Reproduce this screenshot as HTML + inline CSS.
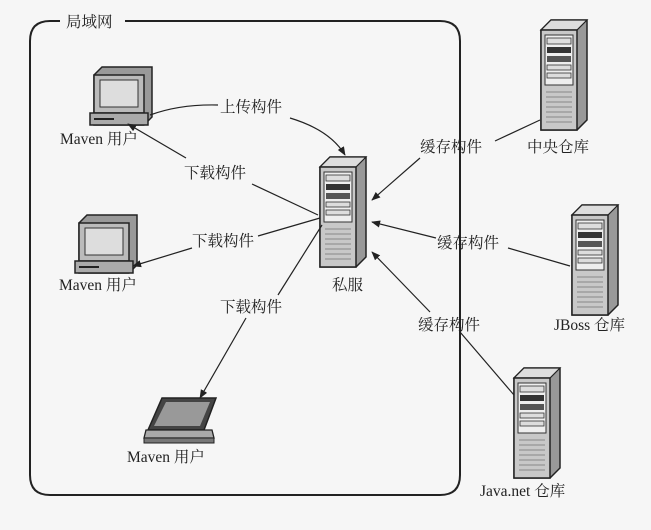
<!DOCTYPE html>
<html><head><meta charset="utf-8"><style>
html,body{margin:0;padding:0;background:#f6f6f6;}
svg{display:block}
text{font-family:"Liberation Serif","Noto Serif CJK SC",serif;font-size:15.5px;fill:#222}
</style></head><body>
<svg width="651" height="530" viewBox="0 0 651 530" xmlns="http://www.w3.org/2000/svg">
<defs>
<marker id="ar" viewBox="0 0 10 10" refX="9" refY="5" markerWidth="9" markerHeight="9" orient="auto-start-reverse" markerUnits="userSpaceOnUse">
<path d="M0,1 L10,5 L0,9 z" fill="#222"/></marker>
<g id="srv">
<path d="M0,10 L10,0 L46,0 L46,100 L36,110 L0,110 z" fill="#999" stroke="#222" stroke-width="1.5"/>
<path d="M0,10 L10,0 L46,0 L36,10 z" fill="#ddd" stroke="#222" stroke-width="1.2"/>
<rect x="0" y="10" width="36" height="100" fill="#c8c8c8" stroke="#222" stroke-width="1.5"/>
<rect x="4" y="15" width="28" height="50" fill="#eee" stroke="#333"/>
<rect x="6" y="18" width="24" height="6" fill="#ddd" stroke="#333" stroke-width=".8"/>
<rect x="6" y="27" width="24" height="6" fill="#333"/>
<rect x="6" y="36" width="24" height="6" fill="#555"/>
<rect x="6" y="45" width="24" height="5" fill="#ddd" stroke="#333" stroke-width=".8"/>
<rect x="6" y="53" width="24" height="5" fill="#ddd" stroke="#333" stroke-width=".8"/>
<g stroke="#888" stroke-width="1"><path d="M5,72h26M5,77h26M5,82h26M5,87h26M5,92h26M5,97h26M5,102h26"/></g>
</g>
<g id="mon">
<path d="M0,8 L8,0 L58,0 L58,50 L50,58 L0,58 z" fill="#999" stroke="#222" stroke-width="1.5"/>
<rect x="0" y="8" width="50" height="38" fill="#bbb" stroke="#222" stroke-width="1.5"/>
<rect x="6" y="13" width="38" height="27" fill="#ddd" stroke="#333"/>
<rect x="-4" y="46" width="58" height="12" fill="#aaa" stroke="#222" stroke-width="1.5"/>
<path d="M0,52h20" stroke="#222" stroke-width="2"/>
</g>
</defs>
<path d="M60,21 L50,21 Q30,21 30,41 L30,475 Q30,495 50,495 L440,495 Q460,495 460,475 L460,41 Q460,21 440,21 L125,21" fill="none" stroke="#222" stroke-width="2"/>
<text x="66" y="27">局域网</text>

<use href="#mon" x="94" y="67"/>
<use href="#mon" x="79" y="215"/>
<g>
<path d="M162,398 L216,398 L204,430 L148,430 z" fill="#444" stroke="#222" stroke-width="1.5"/>
<path d="M166,402 L210,402 L200,426 L154,426 z" fill="#999"/>
<path d="M146,430 L212,430 L214,438 L144,438 z" fill="#aaa" stroke="#222" stroke-width="1.3"/>
<path d="M144,438 L214,438 L214,443 L144,443 z" fill="#777" stroke="#222"/>
</g>
<use href="#srv" x="320" y="157"/>
<use href="#srv" x="541" y="20"/>
<use href="#srv" x="572" y="205"/>
<use href="#srv" x="514" y="368"/>

<text x="60" y="144">Maven 用户</text>
<text x="59" y="290">Maven 用户</text>
<text x="127" y="462">Maven 用户</text>
<text x="332" y="290">私服</text>
<text x="527" y="152">中央仓库</text>
<text x="554" y="330">JBoss 仓库</text>
<text x="480" y="496">Java.net 仓库</text>

<g fill="none" stroke="#222" stroke-width="1.2">
<path d="M150,115 Q180,104 218,105"/>
<path d="M290,118 Q330,130 345,155" marker-end="url(#ar)"/>
<path d="M318,215 L252,184"/>
<path d="M186,158 L128,124" marker-end="url(#ar)"/>
<path d="M320,218 L258,236"/>
<path d="M192,248 L133,266" marker-end="url(#ar)"/>
<path d="M322,225 L278,295"/>
<path d="M246,318 L200,398" marker-end="url(#ar)"/>
<path d="M540,120 L495,141"/>
<path d="M420,158 L372,200" marker-end="url(#ar)"/>
<path d="M570,266 L508,248"/>
<path d="M436,238 L372,222" marker-end="url(#ar)"/>
<path d="M514,395 L460,332"/>
<path d="M430,312 L372,252" marker-end="url(#ar)"/>
</g>
<text x="220" y="112">上传构件</text>
<text x="184" y="178">下载构件</text>
<text x="192" y="246">下载构件</text>
<text x="220" y="312">下载构件</text>
<text x="420" y="152">缓存构件</text>
<text x="437" y="248">缓存构件</text>
<text x="418" y="330">缓存构件</text>
</svg>
</body></html>
